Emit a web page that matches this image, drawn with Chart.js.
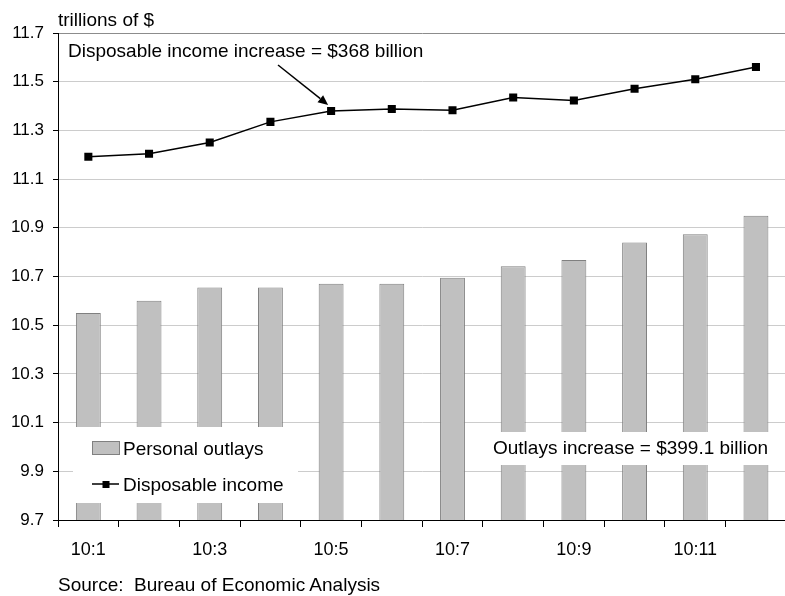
<!DOCTYPE html>
<html>
<head>
<meta charset="utf-8">
<title>Disposable income and personal outlays</title>
<script src="https://cdn.jsdelivr.net/npm/chart.js@4.4.1/dist/chart.umd.min.js"></script>
<style>
  html, body { margin: 0; padding: 0; background: #fff; overflow: hidden; }
  .wrap {
    position: relative; width: 785px; height: 596px; overflow: hidden;
    font-family: 'Liberation Sans', Arial, sans-serif; color: #000;
  }
  .wrap canvas { position: absolute; left: 0; top: 0; }
  .unit, .source { position: absolute; left: 58px; font-size: 19px; line-height: 19px; white-space: nowrap; }
  .unit   { top: 10px; }
  .source { top: 575px; }
</style>
</head>
<body>
<div class="wrap">
  <canvas id="chartIncome" width="792" height="596"></canvas>
  <div class="unit">trillions of $</div>
  <div class="source">Source:&nbsp; Bureau of Economic Analysis</div>
</div>

<script>
// ── Data (trillions of $, monthly 2010) ──────
const months       = ['10:1', '10:2', '10:3', '10:4', '10:5', '10:6', '10:7', '10:8', '10:9', '10:10', '10:11', '10:12'];
const xTickLabels  = ['10:1', '', '10:3', '', '10:5', '', '10:7', '', '10:9', '', '10:11', ''];
const outlays      = [10.550, 10.600, 10.655, 10.655, 10.670, 10.670, 10.695, 10.742, 10.768, 10.840, 10.873, 10.949];
const income       = [11.192, 11.204, 11.250, 11.335, 11.380, 11.388, 11.383, 11.435, 11.423, 11.471, 11.510, 11.560];
const yMin = 9.7, yMax = 11.7, yStep = 0.2;

const incomeNote  = 'Disposable income increase = $368 billion';
const outlaysNote = 'Outlays increase = $399.1 billion';

const FONT = "'Liberation Sans', Arial, sans-serif";

// ── Legend box + annotations, drawn over the bars ──
const notesPlugin = {
    id: 'notes',
    afterDatasetsDraw(chart) {
        const c    = chart.ctx;
        const area = chart.chartArea;
        const lineDs = chart.data.datasets[0];
        const barDs  = chart.data.datasets[1];

        c.save();
        c.font = '19px ' + FONT;
        c.textBaseline = 'alphabetic';
        c.fillStyle = '#fff';

        // white legend panel
        const lx = area.left + 15, ly = 427;
        c.fillRect(lx, ly, 225, 76);

        // bar swatch
        c.fillStyle = barDs.backgroundColor;
        c.fillRect(lx + 19.5, ly + 14.5, 27, 13);
        c.strokeStyle = barDs.borderColor;
        c.lineWidth = 1;
        c.strokeRect(lx + 19.5, ly + 14.5, 27, 13);

        // line swatch with marker
        c.strokeStyle = lineDs.borderColor;
        c.lineWidth = 1.5;
        c.beginPath();
        c.moveTo(lx + 19, ly + 57);
        c.lineTo(lx + 46, ly + 57);
        c.stroke();
        c.fillStyle = '#000';
        c.fillRect(lx + 29.5, ly + 54, 7, 7);

        c.fillText(barDs.label, lx + 50, ly + 28);
        c.fillText(lineDs.label, lx + 50, ly + 64);

        // outlays note with white backing
        c.fillStyle = '#fff';
        c.fillRect(487, 432, chart.width - 487, 33);
        c.fillStyle = '#000';
        c.fillText(outlaysNote, 493, 454);

        // income note + arrow to the 10:5 point
        c.fillText(incomeNote, 68, 57);
        const p = chart.getDatasetMeta(0).data[4];
        const tipX = p.x - 3, tipY = p.y - 6;
        const fromX = 278, fromY = 65;
        const ang = Math.atan2(tipY - fromY, tipX - fromX);
        const headLen = 10, headW = 4.5;
        const baseX = tipX - headLen * Math.cos(ang);
        const baseY = tipY - headLen * Math.sin(ang);
        c.strokeStyle = '#000';
        c.lineWidth = 1.5;
        c.beginPath();
        c.moveTo(fromX, fromY);
        c.lineTo(baseX, baseY);
        c.stroke();
        c.beginPath();
        c.moveTo(tipX, tipY);
        c.lineTo(baseX + headW * Math.sin(ang), baseY - headW * Math.cos(ang));
        c.lineTo(baseX - headW * Math.sin(ang), baseY + headW * Math.cos(ang));
        c.closePath();
        c.fill();

        c.restore();
    }
};

const ctx = document.getElementById('chartIncome');

new Chart(ctx, {
    data: {
        labels: months,
        datasets: [
            {
                type: 'line',
                label: 'Disposable income',
                data: income,
                borderColor: '#000',
                borderWidth: 1.5,
                pointStyle: 'rect',
                pointRadius: 5.7,
                pointBackgroundColor: '#000',
                pointBorderColor: '#000',
                pointBorderWidth: 0,
                tension: 0,
                order: 1
            },
            {
                type: 'bar',
                label: 'Personal outlays',
                data: outlays,
                backgroundColor: '#c0c0c0',
                borderColor: '#808080',
                borderWidth: 1,
                barPercentage: 0.41,
                categoryPercentage: 1,
                order: 2
            }
        ]
    },
    options: {
        responsive: false,
        animation: false,
        devicePixelRatio: 1,
        layout: { padding: { top: 33, right: 2, left: 0, bottom: 0 } },
        plugins: {
            legend:  { display: false },
            tooltip: { enabled: false }
        },
        scales: {
            x: {
                offset: true,
                grid: {
                    offset: true,
                    drawOnChartArea: false,
                    tickLength: 7,
                    tickColor: '#000'
                },
                border: { color: '#000', width: 1 },
                ticks: {
                    autoSkip: false,
                    maxRotation: 0,
                    padding: 12,
                    color: '#000',
                    font: { family: FONT, size: 18 },
                    callback: function(val, i) { return xTickLabels[i]; }
                },
                afterFit: function(scale) { scale.height = 76; }
            },
            y: {
                min: yMin,
                max: yMax,
                ticks: {
                    stepSize: yStep,
                    padding: 9,
                    color: '#000',
                    font: { family: FONT, size: 17 },
                    callback: function(val) { return Number(val).toFixed(1); }
                },
                grid: {
                    color: function(c) {
                        return c.tick && c.tick.value >= yMax - 1e-6 ? '#8c8c8c' : '#cccccc';
                    },
                    tickLength: 5,
                    tickColor: '#000'
                },
                border: { color: '#000', width: 1 },
                afterFit: function(scale) { scale.width = 58; }
            }
        }
    },
    plugins: [notesPlugin]
});
</script>
</body>
</html>
